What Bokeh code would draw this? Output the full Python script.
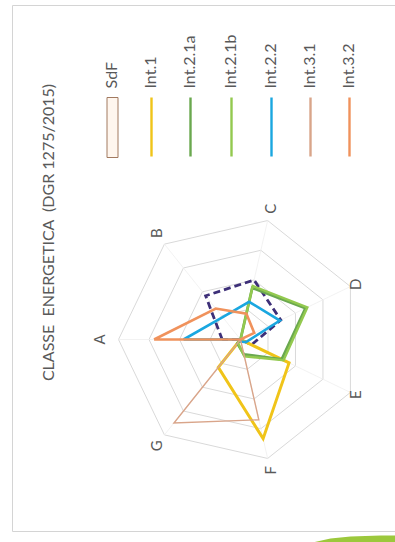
import numpy as np
from bokeh.plotting import figure
from bokeh.models import Range1d
from bokeh.embed import file_html
from bokeh.resources import INLINE
from bokeh.core.properties import value

# ---------------- data ----------------
categories = ["A", "B", "C", "D", "E", "F", "G"]
series_names = ["SdF", "Int.1", "Int.2.1a", "Int.2.1b", "Int.2.2", "Int.3.1", "Int.3.2"]
sdf      = [9.0, 27.5, 30.0, 22.0, 6.0, 0.0, 0.0]
int_1    = [0.0, 0.0, 0.0, 0.0, 26.5, 50.0, 17.5]
int_2_1a = [0.0, 0.0, 26.0, 35.5, 22.5, 7.5, 2.5]
int_2_1b = [0.5, 0.0, 27.0, 36.5, 23.5, 8.5, 2.0]
int_2_2  = [28.0, 14.0, 19.0, 21.5, 3.0, 1.0, 0.0]
int_3_1  = [0.0, 0.0, 0.0, 0.0, 0.0, 40.5, 52.5]
int_3_2  = [42.5, 19.5, 13.0, 7.5, 0.0, 0.0, 0.0]
ring_levels = [15, 30, 45, 60]
title_text = "CLASSE\u00a0\u00a0ENERGETICA\u00a0\u00a0(DGR\u00a01275/2015)"

# ---------------- layout / style ----------------
W, H = 395, 542
FONT = "Lato"
cx, cy = 240.0, H - 339.0          # radar centre (data coords, y up)
R_OUT = 122.0
scale = R_OUT / max(ring_levels)
n = len(categories)

styles = {
    "SdF":      dict(color="#3d2f78", width=2.8, dash="7 4"),
    "Int.1":    dict(color="#f0c419", width=3.0, dash="solid"),
    "Int.2.1a": dict(color="#6aa84f", width=2.8, dash="solid"),
    "Int.2.1b": dict(color="#93c94f", width=2.4, dash="solid"),
    "Int.2.2":  dict(color="#1aa7e0", width=2.6, dash="solid"),
    "Int.3.1":  dict(color="#d9a58a", width=1.4, dash="solid"),
    "Int.3.2":  dict(color="#f0925c", width=2.6, dash="solid"),
}
series_values = [sdf, int_1, int_2_1a, int_2_1b, int_2_2, int_3_1, int_3_2]


def direction(k):
    th = 2 * np.pi * k / n
    return -np.cos(th), np.sin(th)


def polygon(vals):
    xs, ys = [], []
    for k in range(n + 1):
        dx, dy = direction(k % n)
        r = vals[k % n] * scale
        xs.append(cx + r * dx)
        ys.append(cy + r * dy)
    return xs, ys


p = figure(width=W, height=H, x_range=Range1d(0, W), y_range=Range1d(0, H),
           output_backend="svg", toolbar_location=None,
           x_axis_type=None, y_axis_type=None,
           min_border=0, min_border_left=0, min_border_right=0,
           min_border_top=0, min_border_bottom=0)
p.grid.visible = False
p.outline_line_color = None
p.background_fill_color = "white"
p.border_fill_color = "white"

# chart area border
p.quad(left=[12], right=[W + 5], bottom=[H - 531], top=[H - 5],
       fill_color="white", line_color="#d4d4d4", line_width=1)

# decorative green swoosh at the bottom right
p.patch(x=[312, 330, 350, 380, 400, 400, 312], y=[H - 542, H - 538, H - 536, H - 535, H - 535, H - 545, H - 545],
        fill_color="#9cc83c", line_color=None)

# grid rings
for lvl in ring_levels:
    xs, ys = polygon([lvl] * n)
    p.line(xs, ys, line_color="#d9d9d9", line_width=1)
# spokes
for k in range(n):
    dx, dy = direction(k)
    p.line([cx, cx + R_OUT * dx], [cy, cy + R_OUT * dy], line_color="#efefef", line_width=0.8)

# category labels
label_r = [142, 136, 134, 127, 127, 134, 136]
lab_x, lab_y = [], []
for k in range(n):
    dx, dy = direction(k)
    lab_x.append(cx + label_r[k] * dx)
    lab_y.append(cy + label_r[k] * dy)
p.text(x=lab_x, y=lab_y, text=categories, angle=np.pi / 2,
       text_align="center", text_baseline="middle",
       text_font=value(FONT), text_font_size="15px", text_color="#595959")

# series
for name, vals in zip(series_names, series_values):
    st = styles[name]
    xs, ys = polygon(vals)
    p.line(xs, ys, line_color=st["color"], line_width=st["width"],
           line_dash=st["dash"], line_join="miter")

# title (rotated)
p.text(x=[47], y=[H - 232], text=[title_text], angle=np.pi / 2,
       text_align="center", text_baseline="middle",
       text_font=value(FONT), text_font_size="16px", text_color="#595959")

# legend (rotated, manual)
leg_x = [112, 151, 190, 231, 271, 310, 349]
for i, name in enumerate(series_names):
    st = styles[name]
    x0 = leg_x[i]
    if name == "SdF":
        p.quad(left=[x0 - 5.5], right=[x0 + 5.5], bottom=[H - 157], top=[H - 97],
               fill_color="#fff6ee", line_color="#a27a60", line_width=1)
    else:
        p.line([x0, x0], [H - 156, H - 97], line_color=st["color"], line_width=2.4)
    p.text(x=[x0 - 2], y=[H - 88], text=[name], angle=np.pi / 2,
           text_align="left", text_baseline="middle",
           text_font=value(FONT), text_font_size="16px", text_color="#595959")

open("out.html", "w").write(file_html(p, INLINE))
